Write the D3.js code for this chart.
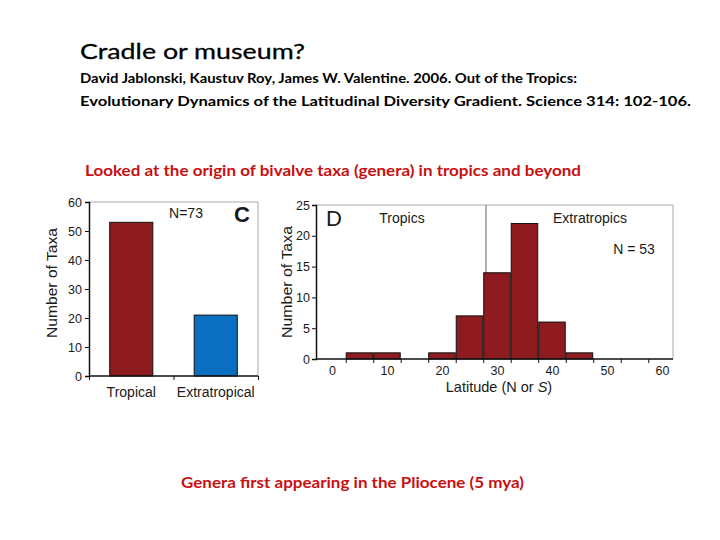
<!DOCTYPE html>
<html>
<head>
<meta charset="utf-8">
<script src="https://cdn.jsdelivr.net/npm/d3@7"></script>
<style>
  body { margin: 0; background: #fff; }
  svg text { fill: #1a1a1a; }
</style>
</head>
<body>
<div id="chart"></div>
<script>
// Panel C data
const regions = ["Tropical", "Extratropical"];
const regionCounts = [53, 21];
const regionColors = ["#8e1b1f", "#0a6fc0"];
const cTicks = [0, 10, 20, 30, 40, 50, 60];

// Panel D data (latitude bins centred every 5 degrees)
const binCenters = [5, 10, 15, 20, 25, 30, 35, 40, 45];
const binCounts = [1, 1, 0, 1, 7, 14, 22, 6, 1];
const dTicksY = [0, 5, 10, 15, 20, 25];
const dTicksX = [0, 10, 20, 30, 40, 50, 60];
const tropicsLimit = 28;

const svg = d3.select("#chart").append("svg")
    .attr("width", 720)
    .attr("height", 540);

// Slide texts
const titleFont = "Lato, 'Open Sans', sans-serif";
svg.append("text").attr("x", 80).attr("y", 59)
    .style("font-family", titleFont).style("font-size", "22px")
    .style("fill", "#000").style("stroke", "#000").style("stroke-width", 0.3)
    .text("Cradle or museum?")
    .attr("textLength", 225).attr("lengthAdjust", "spacingAndGlyphs");
svg.append("text").attr("x", 80).attr("y", 83)
    .style("font-family", titleFont).style("font-size", "14px").style("font-weight", "bold")
    .style("fill", "#000")
    .text("David Jablonski, Kaustuv Roy, James W. Valentine. 2006. Out of the Tropics:")
    .attr("textLength", 497).attr("lengthAdjust", "spacingAndGlyphs");
svg.append("text").attr("x", 80).attr("y", 106)
    .style("font-family", titleFont).style("font-size", "14px").style("font-weight", "bold")
    .style("fill", "#000")
    .text("Evolutionary Dynamics of the Latitudinal Diversity Gradient. Science 314: 102-106.")
    .attr("textLength", 611).attr("lengthAdjust", "spacingAndGlyphs");
svg.append("text").attr("x", 85).attr("y", 176)
    .style("font-family", titleFont).style("font-size", "15px").style("font-weight", "bold")
    .style("fill", "#c81010")
    .text("Looked at the origin of bivalve taxa (genera) in tropics and beyond")
    .attr("textLength", 496).attr("lengthAdjust", "spacingAndGlyphs");
svg.append("text").attr("x", 181).attr("y", 488)
    .style("font-family", titleFont).style("font-size", "15px").style("font-weight", "bold")
    .style("fill", "#c81010")
    .text("Genera first appearing in the Pliocene (5 mya)")
    .attr("textLength", 343).attr("lengthAdjust", "spacingAndGlyphs");

const axisFont = "'Liberation Sans', Arial, sans-serif";

// ---------- Panel C ----------
const c = { left: 89, right: 258, top: 202, bottom: 376 };
const cx = d3.scaleBand().domain(regions).range([c.left, c.right]).paddingInner(0.49).paddingOuter(0.245);
const cy = d3.scaleLinear().domain([0, 60]).range([c.bottom, c.top]);

// gray frame
svg.append("path")
    .attr("d", `M${c.left},${c.top}H${c.right}V${c.bottom}`)
    .attr("fill", "none").attr("stroke", "#aaa").attr("stroke-width", 1);

svg.selectAll(".cbar").data(regions).enter().append("rect")
    .attr("class", "cbar")
    .attr("x", d => cx(d))
    .attr("width", cx.bandwidth())
    .attr("y", (d, i) => cy(regionCounts[i]))
    .attr("height", (d, i) => c.bottom - cy(regionCounts[i]))
    .attr("fill", (d, i) => regionColors[i])
    .attr("stroke", "#111").attr("stroke-width", 1);

const cyAxis = svg.append("g").attr("transform", `translate(${c.left},0)`)
    .call(d3.axisLeft(cy).tickValues(cTicks).tickSize(4).tickPadding(3));
const cxScaleEdges = d3.scaleLinear().domain([0, 2]).range([c.left, c.right]);
const cxAxis = svg.append("g").attr("transform", `translate(0,${c.bottom})`)
    .call(d3.axisBottom(cxScaleEdges).tickValues([0, 1, 2]).tickSize(4).tickFormat(""));
[cyAxis, cxAxis].forEach(g => {
    g.select(".domain").attr("stroke", "#111").attr("stroke-width", 1.5);
    g.selectAll(".tick line").attr("stroke", "#111");
    g.selectAll("text").style("font-family", axisFont).style("font-size", "12.5px").attr("fill", "#1a1a1a");
});
cxAxis.select(".domain").attr("d", `M${c.left},0H${c.right}`);

svg.selectAll(".clabel").data(regions).enter().append("text")
    .attr("x", d => cx(d) + cx.bandwidth() / 2)
    .attr("y", 397)
    .attr("text-anchor", "middle")
    .style("font-family", axisFont).style("font-size", "14px")
    .text(d => d);

svg.append("text")
    .attr("transform", `translate(57,${(c.top + c.bottom) / 2 - 6}) rotate(-90)`)
    .attr("text-anchor", "middle")
    .style("font-family", axisFont).style("font-size", "15px")
    .attr("textLength", 110).attr("lengthAdjust", "spacingAndGlyphs")
    .text("Number of Taxa");
svg.append("text").attr("x", 186).attr("y", 218).attr("text-anchor", "middle")
    .style("font-family", axisFont).style("font-size", "14px").text("N=73");
svg.append("text").attr("x", 242).attr("y", 222).attr("text-anchor", "middle")
    .style("font-family", axisFont).style("font-size", "22px").style("font-weight", "bold").text("C");

// ---------- Panel D ----------
const d = { left: 316, right: 673, top: 205, bottom: 359 };
const dx = d3.scaleLinear().domain([-2.9, 62]).range([d.left, d.right]);
const dy = d3.scaleLinear().domain([0, 25]).range([d.bottom, d.top]);

svg.append("path")
    .attr("d", `M${d.left},${d.top}H${d.right}V${d.bottom}`)
    .attr("fill", "none").attr("stroke", "#aaa").attr("stroke-width", 1);

svg.append("line")
    .attr("x1", dx(tropicsLimit)).attr("x2", dx(tropicsLimit))
    .attr("y1", d.top).attr("y2", d.bottom)
    .attr("stroke", "#999").attr("stroke-width", 1.5);

svg.selectAll(".dbar").data(binCenters.filter((v, i) => binCounts[i] > 0)).enter().append("rect")
    .attr("class", "dbar")
    .attr("x", v => dx(v - 2.5) + 0.5)
    .attr("width", v => dx(v + 2.5) - dx(v - 2.5) - 1)
    .attr("y", v => dy(binCounts[binCenters.indexOf(v)]))
    .attr("height", v => d.bottom - dy(binCounts[binCenters.indexOf(v)]))
    .attr("fill", "#8e1b1f")
    .attr("stroke", "#111").attr("stroke-width", 1);

const dyAxis = svg.append("g").attr("transform", `translate(${d.left},0)`)
    .call(d3.axisLeft(dy).tickValues(dTicksY).tickSize(4).tickPadding(2));
const edgeTicks = d3.range(2.5, 62, 5);
const dxTickAxis = svg.append("g").attr("transform", `translate(0,${d.bottom})`)
    .call(d3.axisBottom(dx).tickValues(edgeTicks).tickSize(4).tickFormat(""));
const dxLabelAxis = svg.append("g").attr("transform", `translate(0,${d.bottom})`)
    .call(d3.axisBottom(dx).tickValues(dTicksX).tickSize(0).tickPadding(7));
dxLabelAxis.select(".domain").remove();
[dyAxis, dxTickAxis, dxLabelAxis].forEach(g => {
    g.select(".domain").attr("stroke", "#111").attr("stroke-width", 1.5);
    g.selectAll(".tick line").attr("stroke", "#111");
    g.selectAll("text").style("font-family", axisFont).style("font-size", "12.5px").attr("fill", "#1a1a1a");
});
dxTickAxis.select(".domain").attr("d", `M${d.left},0H${d.right}`);

svg.append("text")
    .attr("x", 499).attr("y", 392)
    .attr("text-anchor", "middle")
    .style("font-family", axisFont).style("font-size", "14.5px")
    .html("Latitude (N or <tspan font-style='italic'>S</tspan>)");
svg.append("text")
    .attr("transform", `translate(292,${(d.top + d.bottom) / 2}) rotate(-90)`)
    .attr("text-anchor", "middle")
    .style("font-family", axisFont).style("font-size", "15px")
    .attr("textLength", 112).attr("lengthAdjust", "spacingAndGlyphs")
    .text("Number of Taxa");
svg.append("text").attr("x", 326).attr("y", 226)
    .style("font-family", axisFont).style("font-size", "22px").text("D");
svg.append("text").attr("x", 402).attr("y", 223).attr("text-anchor", "middle")
    .style("font-family", axisFont).style("font-size", "14px").text("Tropics");
svg.append("text").attr("x", 590).attr("y", 223).attr("text-anchor", "middle")
    .style("font-family", axisFont).style("font-size", "14px").text("Extratropics");
svg.append("text").attr("x", 634).attr("y", 254).attr("text-anchor", "middle")
    .style("font-family", axisFont).style("font-size", "14px").text("N = 53");
</script>
</body>
</html>
